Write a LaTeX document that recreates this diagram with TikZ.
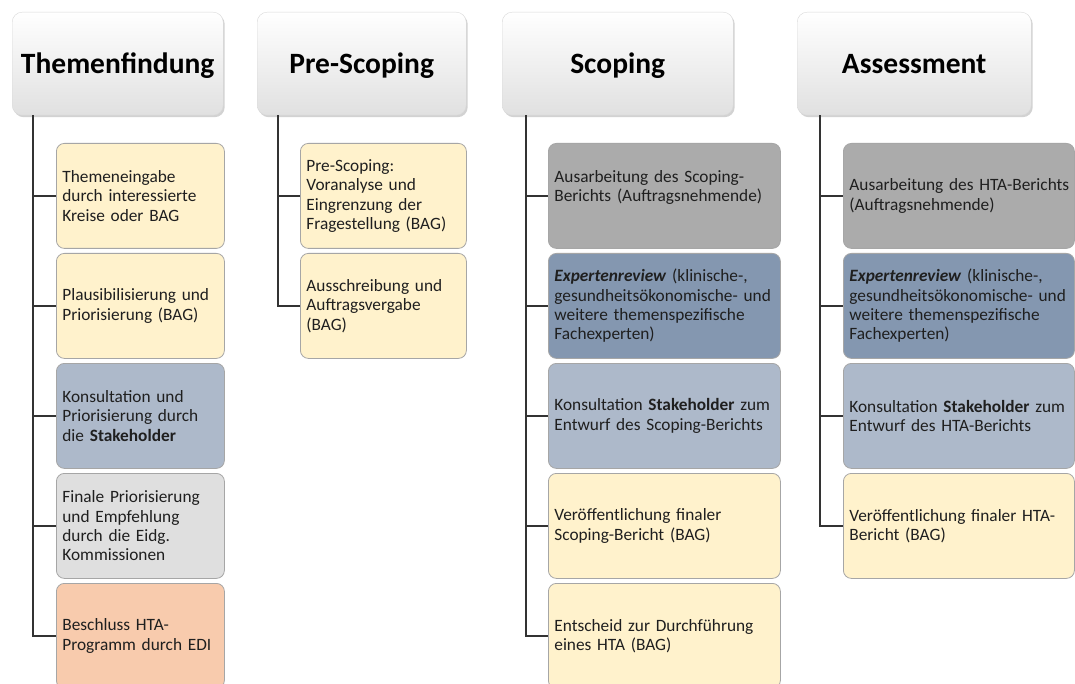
\documentclass[tikz,border=0pt]{standalone}
\usepackage{fontspec}
\setmainfont{Carlito}
\usetikzlibrary{shadows}
\definecolor{boxyellow}{HTML}{FFF2CC}
\definecolor{boxgray}{HTML}{ABABAB}
\definecolor{boxblue}{HTML}{8497B0}
\definecolor{boxlight}{HTML}{ADB9CA}
\definecolor{boxsilver}{HTML}{DFDFDF}
\definecolor{boxorange}{HTML}{F8CBAD}
\definecolor{textgray}{HTML}{1F1F1F}
\tikzset{
  phase/.style={draw=black!15, rounded corners=10pt, top color=white, bottom color=black!12,
    drop shadow={shadow xshift=1.5pt, shadow yshift=-2pt, opacity=.35},
    anchor=north west, minimum height=103pt, text height=19pt, text depth=0pt,
    font=\fontsize{29.5}{34}\selectfont\bfseries, text=black},
  task/.style={draw=black!35, line width=.8pt, rounded corners=8pt, anchor=north west,
    minimum height=105pt, inner xsep=6pt, align=left,
    font=\fontsize{17.3}{19.3}\selectfont, text=textgray},
  col1/.style={task, text width=156pt},
  col2/.style={task, text width=154pt},
  col3/.style={task, text width=220pt},
  col4/.style={task, text width=219pt},
  link/.style={draw=black!80, line width=1.6pt},
}
\begin{document}
\begin{tikzpicture}[x=1pt,y=-1pt]
\fill[white] (0,0) rectangle (1075,684);
\useasboundingbox (0,0) rectangle (1075,684);
% phases
\draw (12,12) node[phase, minimum width=211pt](th){Themenfindung}
(257,12) node[phase, minimum width=209pt](ps){Pre-Scoping}
(502,12) node[phase, minimum width=231pt](sc){Scoping}
(797,12) node[phase, minimum width=234pt](as){Assessment};
% Themenfindung
\draw (56,143) node[col1, fill=boxyellow](th1){Themeneingabe\\durch interessierte\\Kreise oder BAG}
(56,253) node[col1, fill=boxyellow](th2){Plausibilisierung und\\Priorisierung (BAG)}
(56,363) node[col1, fill=boxlight](th3){Konsultation und\\Priorisierung durch\\die \textbf{Stakeholder}}
(56,473) node[col1, fill=boxsilver](th4){Finale Priorisierung\\und Empfehlung\\durch die Eidg.\\Kommissionen}
(56,583) node[col1, fill=boxorange](th5){Beschluss HTA-\\Programm durch EDI};
% Pre-Scoping
\draw (300,143) node[col2, fill=boxyellow](ps1){Pre-Scoping:\\Voranalyse und\\Eingrenzung der\\Fragestellung (BAG)}
(300,253) node[col2, fill=boxyellow](ps2){Ausschreibung und\\Auftragsvergabe\\(BAG)};
% Scoping
\draw (548,143) node[col3, fill=boxgray](sc1){Ausarbeitung des Scoping-\\Berichts (Auftragsnehmende)\\\mbox{}}
(548,253) node[col3, fill=boxblue](sc2){\textbf{\textit{Expertenreview}} (klinische-,\\gesundheitsökonomische- und\\weitere themenspezifische\\Fachexperten)}
(548,363) node[col3, fill=boxlight](sc3){Konsultation \textbf{Stakeholder} zum\\Entwurf des Scoping-Berichts}
(548,473) node[col3, fill=boxyellow](sc4){Veröffentlichung finaler\\Scoping-Bericht (BAG)}
(548,583) node[col3, fill=boxyellow](sc5){Entscheid zur Durchführung\\eines HTA (BAG)};
% Assessment
\draw (843,143) node[col4, fill=boxgray](as1){\mbox{Ausarbeitung des HTA-Berichts}\\(Auftragsnehmende)}
(843,253) node[col4, fill=boxblue](as2){\textbf{\textit{Expertenreview}} (klinische-,\\gesundheitsökonomische- und\\weitere themenspezifische\\Fachexperten)}
(843,363) node[col4, fill=boxlight](as3){Konsultation \textbf{Stakeholder} zum\\Entwurf des HTA-Berichts}
(843,473) node[col4, fill=boxyellow](as4){Veröffentlichung finaler HTA-\\Bericht (BAG)};
% connectors
\draw[link] (th.south west) ++(21,0) |- (th1.west);
\draw[link] (th.south west) ++(21,0) |- (th2.west);
\draw[link] (th.south west) ++(21,0) |- (th3.west);
\draw[link] (th.south west) ++(21,0) |- (th4.west);
\draw[link] (th.south west) ++(21,0) |- (th5.west);
\draw[link] (ps.south west) ++(21,0) |- (ps1.west);
\draw[link] (ps.south west) ++(21,0) |- (ps2.west);
\draw[link] (sc.south west) ++(24,0) |- (sc1.west);
\draw[link] (sc.south west) ++(24,0) |- (sc2.west);
\draw[link] (sc.south west) ++(24,0) |- (sc3.west);
\draw[link] (sc.south west) ++(24,0) |- (sc4.west);
\draw[link] (sc.south west) ++(24,0) |- (sc5.west);
\draw[link] (as.south west) ++(23,0) |- (as1.west);
\draw[link] (as.south west) ++(23,0) |- (as2.west);
\draw[link] (as.south west) ++(23,0) |- (as3.west);
\draw[link] (as.south west) ++(23,0) |- (as4.west);
\end{tikzpicture}
\end{document}
